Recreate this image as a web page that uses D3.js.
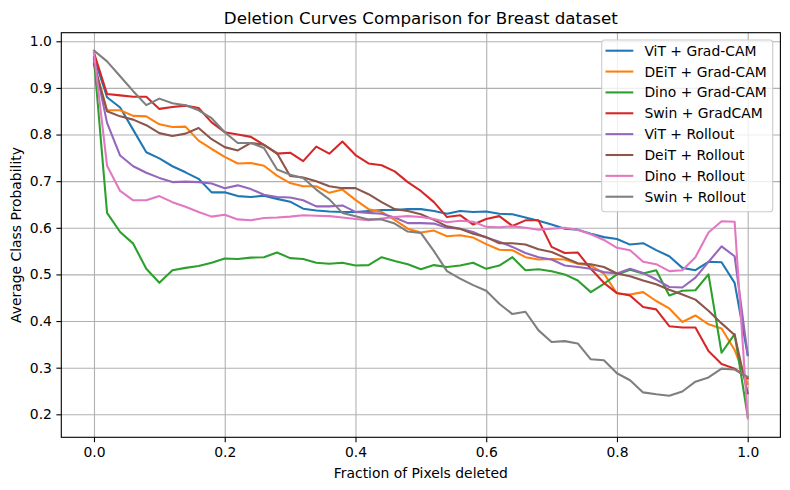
<!DOCTYPE html>
<html>
<head>
<meta charset="utf-8">
<script src="https://cdn.jsdelivr.net/npm/d3@7"></script>
<style>
  body { margin: 0; background: #fff; }
  svg { display: block; }
  text { font-family: "DejaVu Sans", sans-serif; fill: #000; }
</style>
</head>
<body>
<div id="chart"></div>
<script>
// fraction of pixels deleted (x values)
let fractions = [0, 0.02, 0.04, 0.06, 0.08, 0.1, 0.12, 0.14, 0.16, 0.18,
  0.2, 0.22, 0.24, 0.26, 0.28, 0.3, 0.32, 0.34, 0.36, 0.38,
  0.4, 0.42, 0.44, 0.46, 0.48, 0.5, 0.52, 0.54, 0.56, 0.58,
  0.6, 0.62, 0.64, 0.66, 0.68, 0.7, 0.72, 0.74, 0.76, 0.78,
  0.8, 0.82, 0.84, 0.86, 0.88, 0.9, 0.92, 0.94, 0.96, 0.98, 1.0];

let seriesNames = ["ViT + Grad-CAM", "DEiT + Grad-CAM", "Dino + Grad-CAM", "Swin + GradCAM",
  "ViT + Rollout", "DeiT + Rollout", "Dino + Rollout", "Swin + Rollout"];

let vitGradcam = [0.966, 0.880, 0.858, 0.810, 0.762, 0.749, 0.732, 0.719, 0.705, 0.676,
  0.676, 0.668, 0.666, 0.669, 0.662, 0.656, 0.641, 0.637, 0.635, 0.634,
  0.634, 0.636, 0.638, 0.638, 0.640, 0.640, 0.636, 0.630, 0.636, 0.634,
  0.635, 0.630, 0.629, 0.622, 0.615, 0.607, 0.598, 0.596, 0.587, 0.580,
  0.576, 0.564, 0.567, 0.552, 0.539, 0.514, 0.509, 0.527, 0.526, 0.482, 0.327];

let deitGradcam = [0.952, 0.852, 0.852, 0.840, 0.839, 0.822, 0.816, 0.817, 0.787, 0.769,
  0.752, 0.738, 0.739, 0.733, 0.712, 0.696, 0.689, 0.689, 0.675, 0.682,
  0.660, 0.640, 0.634, 0.617, 0.598, 0.590, 0.594, 0.582, 0.584, 0.579,
  0.565, 0.553, 0.552, 0.537, 0.532, 0.533, 0.532, 0.523, 0.519, 0.502,
  0.459, 0.457, 0.462, 0.443, 0.427, 0.398, 0.412, 0.393, 0.384, 0.338, 0.265];

let dinoGradcam = [0.962, 0.632, 0.591, 0.566, 0.512, 0.482, 0.509, 0.514, 0.518, 0.525,
  0.534, 0.533, 0.536, 0.537, 0.547, 0.535, 0.533, 0.525, 0.523, 0.525,
  0.519, 0.520, 0.537, 0.529, 0.522, 0.511, 0.520, 0.516, 0.519, 0.525,
  0.512, 0.519, 0.537, 0.509, 0.511, 0.507, 0.500, 0.487, 0.462, 0.480,
  0.500, 0.510, 0.502, 0.509, 0.455, 0.465, 0.466, 0.500, 0.332, 0.372, 0.195];

let swinGradcam = [0.975, 0.887, 0.884, 0.881, 0.881, 0.855, 0.859, 0.862, 0.857, 0.826,
  0.805, 0.800, 0.795, 0.778, 0.759, 0.761, 0.743, 0.774, 0.759, 0.785,
  0.756, 0.738, 0.734, 0.721, 0.698, 0.679, 0.655, 0.623, 0.627, 0.607,
  0.619, 0.625, 0.604, 0.616, 0.616, 0.559, 0.546, 0.547, 0.512, 0.482,
  0.460, 0.455, 0.430, 0.425, 0.389, 0.386, 0.386, 0.336, 0.308, 0.298, 0.277];

let vitRollout = [0.960, 0.825, 0.755, 0.732, 0.718, 0.707, 0.698, 0.699, 0.698, 0.695,
  0.685, 0.691, 0.683, 0.671, 0.666, 0.665, 0.659, 0.646, 0.646, 0.648,
  0.634, 0.632, 0.630, 0.622, 0.610, 0.610, 0.609, 0.600, 0.598, 0.591,
  0.579, 0.570, 0.559, 0.546, 0.537, 0.532, 0.519, 0.516, 0.512, 0.505,
  0.502, 0.512, 0.503, 0.489, 0.473, 0.472, 0.493, 0.527, 0.560, 0.539, 0.327];

let deitRollout = [0.950, 0.850, 0.839, 0.832, 0.820, 0.803, 0.797, 0.802, 0.814, 0.790,
  0.773, 0.766, 0.782, 0.778, 0.760, 0.711, 0.708, 0.700, 0.689, 0.685,
  0.685, 0.672, 0.655, 0.640, 0.636, 0.629, 0.617, 0.603, 0.598, 0.587,
  0.580, 0.567, 0.567, 0.564, 0.554, 0.548, 0.536, 0.524, 0.522, 0.516,
  0.502, 0.496, 0.487, 0.479, 0.467, 0.457, 0.446, 0.422, 0.395, 0.370, 0.245];

let dinoRollout = [0.975, 0.733, 0.679, 0.659, 0.659, 0.668, 0.655, 0.645, 0.634, 0.624,
  0.628, 0.618, 0.616, 0.621, 0.622, 0.624, 0.627, 0.626, 0.625, 0.622,
  0.619, 0.616, 0.620, 0.623, 0.625, 0.623, 0.619, 0.612, 0.615, 0.613,
  0.602, 0.601, 0.603, 0.600, 0.596, 0.598, 0.600, 0.596, 0.586, 0.574,
  0.557, 0.552, 0.527, 0.522, 0.507, 0.509, 0.537, 0.590, 0.614, 0.613, 0.191];

let swinRollout = [0.980, 0.957, 0.925, 0.893, 0.863, 0.877, 0.867, 0.863, 0.852, 0.835,
  0.805, 0.782, 0.782, 0.771, 0.725, 0.714, 0.707, 0.682, 0.661, 0.632,
  0.625, 0.618, 0.618, 0.609, 0.592, 0.589, 0.550, 0.507, 0.491, 0.477,
  0.465, 0.437, 0.415, 0.420, 0.380, 0.355, 0.357, 0.352, 0.318, 0.316,
  0.288, 0.273, 0.247, 0.243, 0.240, 0.249, 0.270, 0.279, 0.298, 0.296, 0.280];

let xTicks = [0, 0.2, 0.4, 0.6, 0.8, 1.0];
let yTicks = [0.2, 0.3, 0.4, 0.5, 0.6, 0.7, 0.8, 0.9, 1.0];

let seriesValues = [vitGradcam, deitGradcam, dinoGradcam, swinGradcam,
  vitRollout, deitRollout, dinoRollout, swinRollout];

// size, matplotlib-like layout
let width = 790, height = 490;
let margin = { top: 32.7, left: 61.3, right: 9.6, bottom: 52.7 };
let innerWidth = width - margin.left - margin.right;
let innerHeight = height - margin.top - margin.bottom;

let x = d3.scaleLinear().domain([-0.05, 1.05]).range([0, innerWidth]);
let y = d3.scaleLinear().domain([0.1507, 1.0184]).range([innerHeight, 0]);
let color = d3.scaleOrdinal()
  .domain(seriesNames)
  .range(["#1f77b4", "#ff7f0e", "#2ca02c", "#d62728", "#9467bd", "#8c564b", "#e377c2", "#7f7f7f"]);

let svg = d3.select("#chart").append("svg")
  .attr("width", width)
  .attr("height", height);

let g = svg.append("g")
  .attr("transform", "translate(" + margin.left + "," + margin.top + ")");

// grid lines
g.append("g")
  .attr("class", "grid")
  .attr("transform", "translate(0," + innerHeight + ")")
  .call(d3.axisBottom(x).tickValues(xTicks).tickSize(-innerHeight).tickFormat(""))
  .call(s => s.select(".domain").remove());
g.append("g")
  .attr("class", "grid")
  .call(d3.axisLeft(y).tickValues(yTicks).tickSize(-innerWidth).tickFormat(""))
  .call(s => s.select(".domain").remove());
g.selectAll(".grid text").remove();
g.selectAll(".grid line")
  .attr("stroke", "#b0b0b0")
  .attr("stroke-width", 1.1);

// the curves
let line = d3.line()
  .x((d, i) => x(fractions[i]))
  .y(d => y(d));

g.selectAll(".curve")
  .data(seriesValues)
  .enter().append("path")
  .attr("class", "curve")
  .attr("fill", "none")
  .attr("stroke", (d, i) => color(seriesNames[i]))
  .attr("stroke-width", 2.08)
  .attr("stroke-linejoin", "round")
  .attr("stroke-linecap", "square")
  .attr("d", d => line(d));

// axes
let xAxis = d3.axisBottom(x).tickValues(xTicks).tickSize(4.9).tickPadding(4.5).tickFormat(d3.format(".1f"));
let yAxis = d3.axisLeft(y).tickValues(yTicks).tickSize(4.9).tickPadding(4.5).tickFormat(d3.format(".1f"));

g.append("g")
  .attr("class", "axis")
  .attr("transform", "translate(0," + innerHeight + ")")
  .call(xAxis);
g.append("g")
  .attr("class", "axis")
  .call(yAxis);

g.selectAll(".axis")
  .attr("font-size", null)
  .attr("font-family", null);
g.selectAll(".axis .domain").remove();
g.selectAll(".axis line").attr("stroke", "#000").attr("stroke-width", 1.1);
g.selectAll(".axis text")
  .style("font-size", "13.9px")
  .attr("fill", "#000");

// frame
g.append("rect")
  .attr("width", innerWidth)
  .attr("height", innerHeight)
  .attr("fill", "none")
  .attr("stroke", "#000")
  .attr("stroke-width", 1.1);

// title and labels
svg.append("text")
  .attr("x", margin.left + innerWidth / 2)
  .attr("y", 24.4)
  .attr("text-anchor", "middle")
  .style("font-size", "16.7px")
  .text("Deletion Curves Comparison for Breast dataset");

svg.append("text")
  .attr("x", margin.left + innerWidth / 2)
  .attr("y", 477.5)
  .attr("text-anchor", "middle")
  .style("font-size", "13.9px")
  .text("Fraction of Pixels deleted");

svg.append("text")
  .attr("transform", "translate(21," + (margin.top + innerHeight / 2) + ") rotate(-90)")
  .attr("text-anchor", "middle")
  .style("font-size", "13.9px")
  .text("Average Class Probability");

// legend
let legend = svg.append("g")
  .attr("transform", "translate(601.7,40)");

legend.append("rect")
  .attr("width", 171)
  .attr("height", 171.7)
  .attr("rx", 2.8)
  .attr("fill", "#fff")
  .attr("fill-opacity", 0.8)
  .attr("stroke", "#cccccc")
  .attr("stroke-width", 1.1);

let rows = legend.selectAll(".row")
  .data(seriesNames)
  .enter().append("g")
  .attr("class", "row")
  .attr("transform", (d, i) => "translate(0," + (10.7 + i * 20.86) + ")");

rows.append("line")
  .attr("x1", 3.8).attr("x2", 31.6)
  .attr("stroke", d => color(d))
  .attr("stroke-width", 2.08);

rows.append("text")
  .attr("x", 42.7)
  .attr("dy", "0.36em")
  .style("font-size", "13.9px")
  .text(d => d);
</script>
</body>
</html>
